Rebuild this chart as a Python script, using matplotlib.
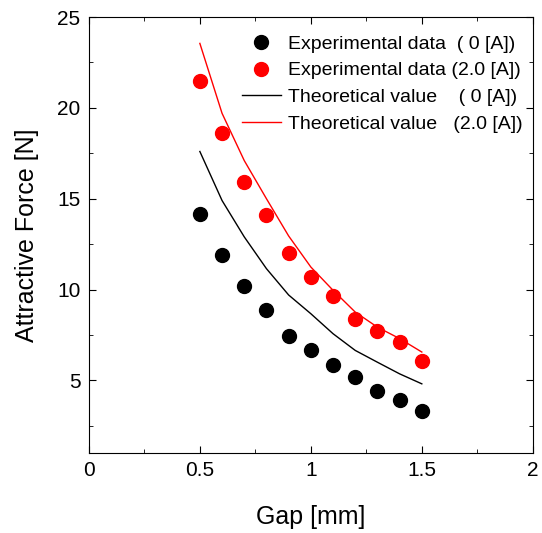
import matplotlib.pyplot as plt

plt.rcParams['font.family'] = ['Liberation Sans', 'DejaVu Sans']

# gap [mm]
gap = [0.5, 0.6, 0.7, 0.8, 0.9, 1.0, 1.1, 1.2, 1.3, 1.4, 1.5]

# measured force [N]
exp_0A = [14.15, 11.9, 10.2, 8.9, 7.46, 6.65, 5.86, 5.2, 4.39, 3.92, 3.32]
exp_2A = [21.5, 18.6, 15.92, 14.12, 12.02, 10.69, 9.63, 8.4, 7.7, 7.09, 6.04]

# theoretical force [N]
theo_0A = [17.6, 14.9, 12.9, 11.15, 9.7, 8.67, 7.57, 6.65, 6.0, 5.36, 4.81]
theo_2A = [23.55, 19.7, 17.1, 15.0, 12.95, 11.24, 9.96, 8.76, 7.93, 7.3, 6.56]

fig = plt.figure(figsize=(5.42, 5.33), dpi=100)
ax = fig.add_axes([0.164, 0.150, 0.819, 0.818])

ax.plot(gap, exp_0A, 'o', color='black', markersize=10, label='Experimental data  ( 0 [A])')
ax.plot(gap, exp_2A, 'o', color='red', markersize=10, label='Experimental data (2.0 [A])')
ax.plot(gap, theo_0A, '-', color='black', linewidth=1.0, label='Theoretical value    ( 0 [A])')
ax.plot(gap, theo_2A, '-', color='red', linewidth=1.0, label='Theoretical value   (2.0 [A])')

ax.set_xlim(0, 2)
ax.set_ylim(1, 25)
ax.set_xticks([0, 0.5, 1, 1.5, 2])
ax.set_xticklabels(['0', '0.5', '1', '1.5', '2'])
ax.set_xticks([0.25, 0.75, 1.25, 1.75], minor=True)
ax.set_yticks([5, 10, 15, 20, 25])
ax.set_yticks([2.5, 7.5, 12.5, 17.5, 22.5], minor=True)
ax.tick_params(which='both', direction='in', top=True, right=True, labelsize=15)
ax.tick_params(which='major', length=5, pad=6)
ax.tick_params(which='minor', length=3)

ax.set_xlabel('Gap [mm]', fontsize=18, labelpad=18)
ax.set_ylabel('Attractive Force [N]', fontsize=18, labelpad=13)

ax.legend(loc='upper right', bbox_to_anchor=(1.0, 0.981), frameon=False, fontsize=14,
          handlelength=2.0, handletextpad=0.4, labelspacing=0.47, borderaxespad=0.1)

fig.savefig('out.png', dpi=100)
